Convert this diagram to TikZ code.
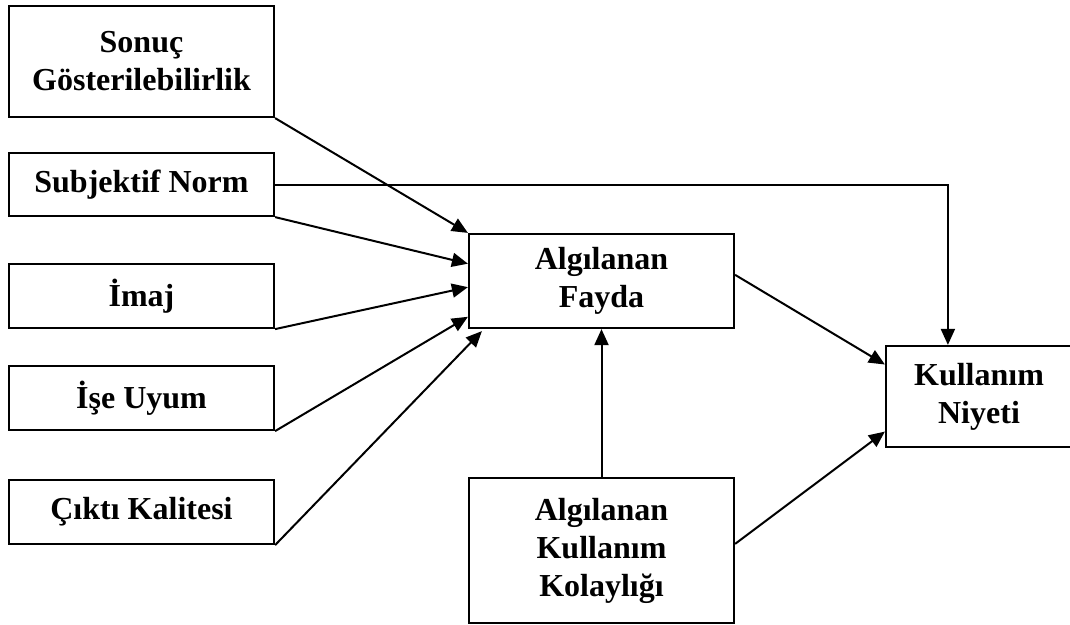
\documentclass[tikz,border=0pt]{standalone}
\usepackage{fontspec}
\setmainfont{Liberation Serif}
\usetikzlibrary{arrows.meta,calc}
\tikzset{
  box/.style={draw, line width=2.2pt, rectangle, align=center, inner sep=0pt,
    font=\fontsize{32}{38}\selectfont\bfseries},
  conn/.style={line width=2pt, -{Triangle[length=16pt,width=14pt]}}
}
\begin{document}
\begin{tikzpicture}[x=1pt,y=-1pt]
\useasboundingbox (0,0) rectangle (1070,624);
\node[box, minimum width=265pt, minimum height=111pt] (sonuc) at (141.5,61.5) {Sonuç\\Gösterilebilirlik};
\node[box, minimum width=265pt, minimum height=63pt] (subj) at (141.5,184.5) {Subjektif Norm};
\node[box, minimum width=265pt, minimum height=64pt] (imaj) at (141.5,296) {İmaj};
\node[box, minimum width=265pt, minimum height=64pt] (ise) at (141.5,398) {İşe Uyum};
\node[box, minimum width=265pt, minimum height=64pt] (cikti) at (141.5,512) {Çıktı Kalitesi};
\node[box, minimum width=265pt, minimum height=94pt] (fayda) at (601.5,281) {Algılanan\\Fayda};
\node[box, minimum width=186pt, minimum height=101pt] (niyet) at (979,396.5) {Kullanım\\Niyeti};
\node[box, minimum width=265pt, minimum height=145pt] (kolay) at (601.5,550.5) {Algılanan\\Kullanım\\Kolaylığı};

\draw[conn] (sonuc.south east) -- (fayda.north west);
\draw[conn] (subj.south east) -- ($(fayda.north west)!0.32!(fayda.south west)$);
\draw[conn] (imaj.south east) -- ($(fayda.north west)!0.564!(fayda.south west)$);
\draw[conn] (ise.south east) -- ($(fayda.north west)!0.872!(fayda.south west)$);
\draw[conn] (cikti.south east) -- ($(fayda.south west)+(14,2)$);
\draw[conn] (subj.east) -| ($(niyet.north west)+(63,0)$);
\draw[conn] ($(fayda.north east)!0.436!(fayda.south east)$) -- ($(niyet.north west)!0.19!(niyet.south west)$);
\draw[conn] ($(kolay.north east)!0.455!(kolay.south east)$) -- ($(niyet.north west)!0.84!(niyet.south west)$);
\draw[conn] (kolay.north) -- (fayda.south);
\end{tikzpicture}
\end{document}
